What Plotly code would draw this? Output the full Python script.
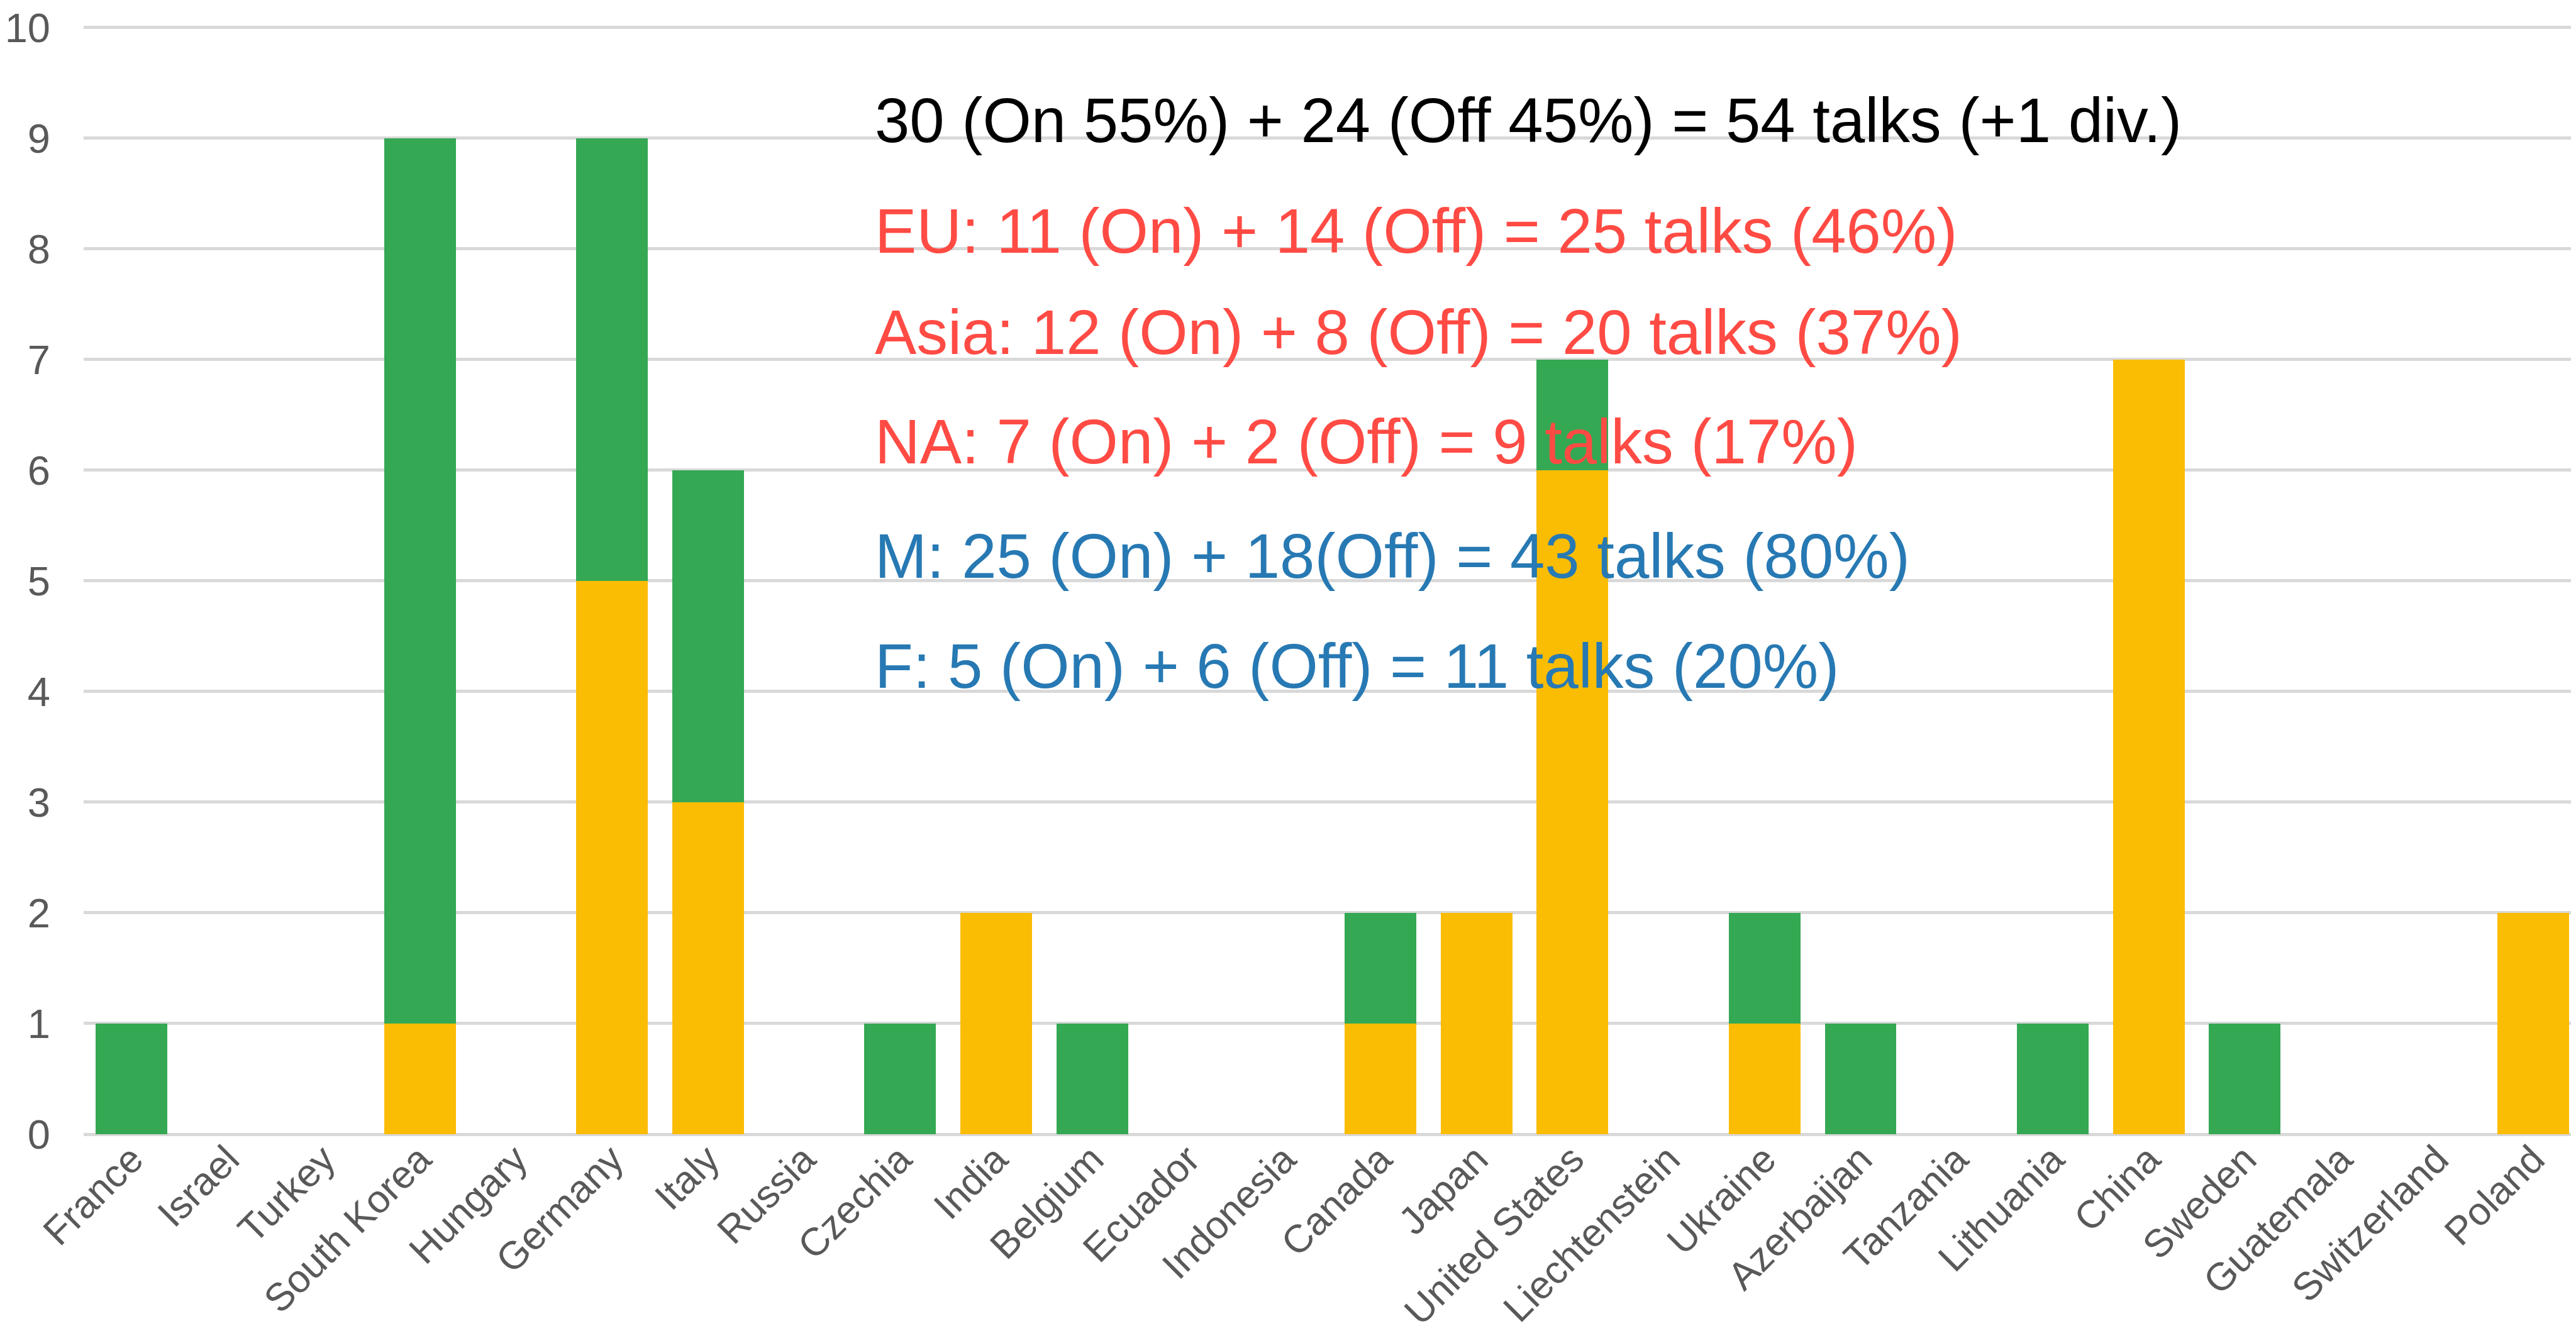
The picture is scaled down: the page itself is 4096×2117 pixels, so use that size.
import plotly.graph_objects as go

# ---- data ----
countries = ["France", "Israel", "Turkey", "South Korea", "Hungary", "Germany", "Italy",
             "Russia", "Czechia", "India", "Belgium", "Ecuador", "Indonesia", "Canada",
             "Japan", "United States", "Liechtenstein", "Ukraine", "Azerbaijan", "Tanzania",
             "Lithuania", "China", "Sweden", "Guatemala", "Switzerland", "Poland"]
on_talks = [0, 0, 0, 1, 0, 5, 3, 0, 0, 2, 0, 0, 0, 1, 2, 6, 0, 1, 0, 0, 0, 7, 0, 0, 0, 2]
off_talks = [1, 0, 0, 8, 0, 4, 3, 0, 1, 0, 1, 0, 0, 1, 0, 1, 0, 1, 1, 0, 1, 0, 1, 0, 0, 0]
y_ticks = [0, 1, 2, 3, 4, 5, 6, 7, 8, 9, 10]

summary_lines = [
    "30 (On 55%) + 24 (Off 45%) = 54 talks (+1 div.)",
    "EU: 11 (On) + 14 (Off) = 25 talks (46%)",
    "Asia: 12 (On) + 8 (Off) = 20 talks (37%)",
    "NA: 7 (On) + 2 (Off) = 9 talks (17%)",
    "M: 25 (On) + 18(Off) = 43 talks (80%)",
    "F: 5 (On) + 6 (Off) = 11 talks (20%)",
]
summary_colors = ["#000000", "#FF4B44", "#FF4B44", "#FF4B44", "#2779B3", "#2779B3"]

# ---- layout geometry (reference px scaled) ----
S = 4096 / 4405
W, H = 4096, 2117
Y_MAX = 10.01
unit_ref = 189.8
plot_left = 132 * S
plot_top = (36 - (Y_MAX - 10) * unit_ref) * S
plot_bottom = 1932 * S
M_L, M_R, M_T, M_B = plot_left, 0, plot_top, H - plot_bottom

FONT = "Liberation Sans, Arial, sans-serif"
TICK_COLOR = "#595959"
GRID = "#D9D9D9"

fig = go.Figure()
fig.add_trace(go.Bar(x=countries, y=on_talks, name="On", marker=dict(color="#FBBC04", line=dict(width=0))))
fig.add_trace(go.Bar(x=countries, y=off_talks, name="Off", marker=dict(color="#34A853", line=dict(width=0))))

# summary text: baseline positions in reference px
text_font = 107 * S
baselines_ref = [233, 423, 596, 784, 980, 1168]
text_left_ref = 1483
plot_w = W - M_L - M_R
plot_h = H - M_T - M_B
annotations = []
for line, col, base in zip(summary_lines, summary_colors, baselines_ref):
    cy = (base - 0.358 * 107) * S
    annotations.append(dict(
        text=line, xref="paper", yref="paper",
        x=(text_left_ref * S - M_L) / plot_w,
        y=1 - (cy - M_T) / plot_h,
        xanchor="left", yanchor="middle", showarrow=False,
        font=dict(family=FONT, size=text_font, color=col),
    ))

fig.update_layout(
    width=W, height=H,
    margin=dict(l=M_L, r=M_R, t=M_T, b=M_B, pad=0),
    barmode="stack", bargap=0.254,
    plot_bgcolor="white", paper_bgcolor="white",
    showlegend=False,
    font=dict(family=FONT, size=64, color=TICK_COLOR),
    annotations=annotations,
)
fig.update_xaxes(
    tickangle=-45, tickfont=dict(family=FONT, size=62, color=TICK_COLOR),
    showgrid=False, showline=False, zeroline=False, ticks="",
    ticklabelstandoff=-10, ticklabeloverflow="allow",
)
fig.update_yaxes(
    range=[0, Y_MAX], tickvals=y_ticks, ticktext=[str(v) for v in y_ticks],
    tickfont=dict(family=FONT, size=65, color=TICK_COLOR),
    showgrid=True, gridcolor=GRID, gridwidth=5,
    zeroline=True, zerolinecolor=GRID, zerolinewidth=5,
    showline=False, ticks="", ticklabelstandoff=52, ticklabeloverflow="allow",
)

fig.write_html("out.html")
